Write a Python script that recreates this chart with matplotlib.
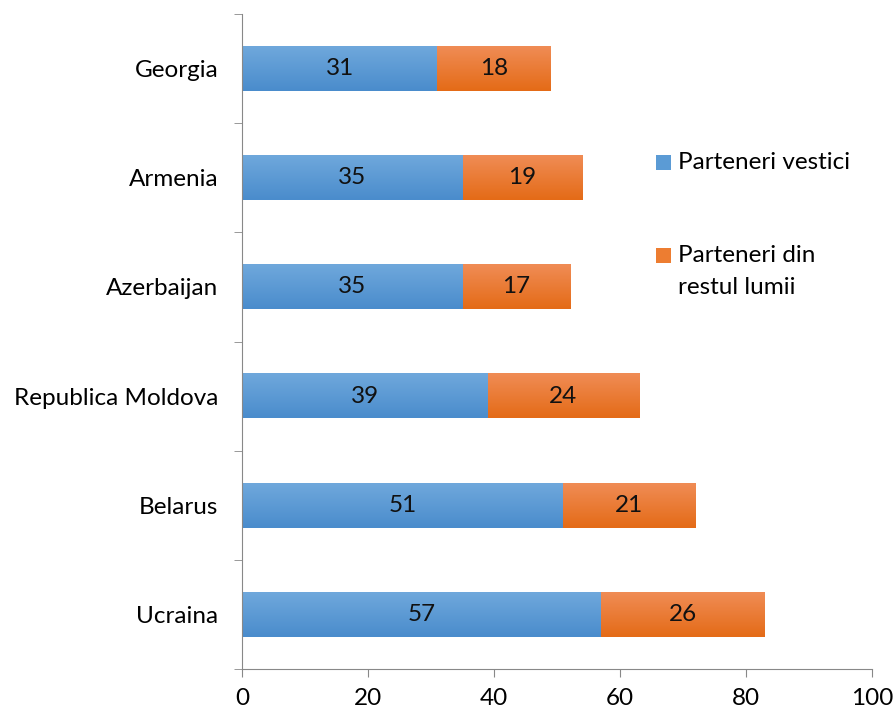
import matplotlib.pyplot as plt
import numpy as np
from matplotlib.colors import LinearSegmentedColormap
from matplotlib.patches import Rectangle

# Categories listed bottom to top
countries = ['Ucraina', 'Belarus', 'Republica Moldova', 'Azerbaijan', 'Armenia', 'Georgia']
western = [57, 51, 39, 35, 35, 31]
rest = [26, 21, 24, 17, 19, 18]
series_labels = ['Parteneri vestici', 'Parteneri din\nrestul lumii']
series_colors = ['#5b9bd5', '#ed7d31']

plt.rcParams['font.family'] = ['Lato', 'DejaVu Sans']
fs = 17.5

fig = plt.figure(figsize=(8.95, 7.15), dpi=100)
ax = fig.add_axes([0.2704, 0.0643, 0.7039, 0.9161])

y = np.arange(len(countries))
h = 0.41
bars1 = ax.barh(y, western, height=h, color=series_colors[0])
bars2 = ax.barh(y, rest, left=western, height=h, color=series_colors[1])

# vertical gradient fill like the original
blue_cm = LinearSegmentedColormap.from_list('b', ['#4a8ccc', '#6fa8dc'])
orange_cm = LinearSegmentedColormap.from_list('o', ['#e46b17', '#f08c55'])
grad = np.linspace(0, 1, 64).reshape(-1, 1)
for bars, cm in ((bars1, blue_cm), (bars2, orange_cm)):
    for b in bars:
        x0, y0 = b.get_x(), b.get_y()
        w, hh = b.get_width(), b.get_height()
        ax.imshow(grad, extent=(x0, x0 + w, y0, y0 + hh), origin='lower',
                  cmap=cm, aspect='auto', zorder=2)
        b.set_facecolor('none')

for bars, vals in ((bars1, western), (bars2, rest)):
    for b, v in zip(bars, vals):
        ax.text(b.get_x() + b.get_width() / 2, b.get_y() + b.get_height() / 2, str(v),
                ha='center', va='center', fontsize=fs, color='#111111', zorder=3)

ax.set_xlim(0, 100)
ax.set_ylim(-0.5, len(countries) - 0.5)
ax.set_xticks([0, 20, 40, 60, 80, 100])
ax.set_yticks(y)
ax.set_yticklabels(countries)
ax.set_yticks(np.arange(-0.5, len(countries)), minor=True)
ax.tick_params(axis='y', which='major', length=0, pad=17, labelsize=fs)
ax.tick_params(axis='y', which='minor', length=6, color='#888888')
ax.tick_params(axis='x', length=6, color='#888888', labelsize=fs, pad=8)

for s in ['top', 'right']:
    ax.spines[s].set_visible(False)
ax.spines['left'].set_color('#888888')
ax.spines['bottom'].set_color('#888888')

# legend drawn by hand: square beside the first line of each label
W, H = 895, 715
leg_y = [162, 255]
for label, col, ly in zip(series_labels, series_colors, leg_y):
    fig.patches.append(Rectangle((656 / W, 1 - (ly + 8) / H), 15 / W, 15 / H,
                                 transform=fig.transFigure, facecolor=col,
                                 edgecolor='none'))
    fig.text(678 / W, 1 - (ly - 10) / H, label, ha='left', va='top',
             fontsize=fs, linespacing=1.65)

fig.savefig('out.png', dpi=100)
